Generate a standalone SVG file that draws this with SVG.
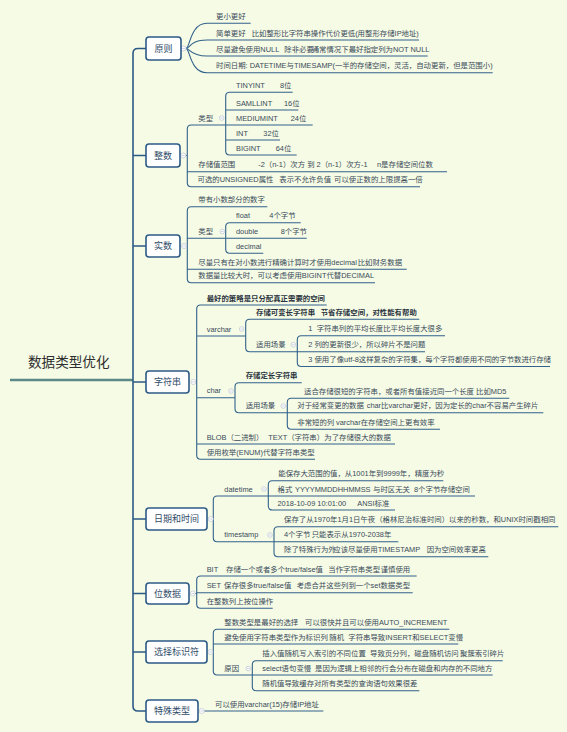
<svg xmlns="http://www.w3.org/2000/svg" width="567" height="732" viewBox="0 0 567 732">
<style>
.ln{stroke:#33628c;stroke-width:1.1;fill:none}
.tr{stroke:#2c5a86;stroke-width:1.6;fill:none}
.bx{fill:#fff;stroke:#2c5a86;stroke-width:1.6}
.bt{font-family:"Liberation Sans","Noto Sans CJK SC",sans-serif;font-size:9px;fill:#2f4b68;text-anchor:middle}
.t{font-family:"Liberation Sans","Noto Sans CJK SC",sans-serif;font-size:7.4px;fill:#3a4a5a}
.b{font-weight:bold;fill:#2b3440}
.c{fill:#fff;stroke:#b9c3d3;stroke-width:0.7}
.cm{stroke:#b9c3d3;stroke-width:0.7}
</style>
<rect x="0" y="0" width="567" height="732" fill="#f5fbe5"/>

<g id="connectors">
  <path d="M10 380H133" stroke="#5d8a86" stroke-width="2.4" fill="none"/>
  <path class="tr" d="M146 48.5H138Q133 48.5 133 53.5V706Q133 711 138 711H146"/>
  <path class="tr" d="M133 155.5H146M133 246H146M133 382H146M133 519H146M133 593.5H146M133 652H146"/>
  <!-- 原则 -->
  <path class="ln" d="M186 48.5C190 48.5 190 23.3 207 23.3H250.7"/>
  <path class="ln" d="M186 48.5C190 48.5 190 40 207 40H419"/>
  <path class="ln" d="M186 48.5C190 48.5 190 56 207 56H427.7"/>
  <path class="ln" d="M186 48.5C190 48.5 190 72.7 207 72.7H492.7"/>
  <!-- 整数 -->
  <path class="ln" d="M191.3 125Q187.3 125 187.3 129V182.7Q187.3 186.7 191.3 186.7M191.3 125H225.7M187.3 171.7H447M191.3 186.7H420M185.8 155.5H187.3"/>
  <path class="ln" d="M229.7 92.3Q225.7 92.3 225.7 96.3V151Q225.7 155 229.7 155M229.7 92.3H292.7M225.7 110H298.3M225.7 125H312.7M225.7 140H280M229.7 155H296.7"/>
  <!-- 实数 -->
  <path class="ln" d="M191.3 206.7Q187.3 206.7 187.3 210.7V278.7Q187.3 282.7 191.3 282.7M191.3 206.7H267.3M187.3 238.3H225.7M187.3 269.3H406.7M191.3 282.7H375M186.5 246H187.3"/>
  <path class="ln" d="M229.7 222.7Q225.7 222.7 225.7 226.7V249.3Q225.7 253.3 229.7 253.3M229.7 222.7H300.7M225.7 238.3H306.7M229.7 253.3H263.3"/>
  <!-- 字符串 -->
  <path class="ln" d="M200.7 305Q196.7 305 196.7 309V455.3Q196.7 459.3 200.7 459.3M200.7 305H326.7M196.7 336H245.7M196.7 397.7H235M196.7 444H395M200.7 459.3H315M195.8 382H196.7"/>
  <path class="ln" d="M249.7 319.3Q245.7 319.3 245.7 323.3V347.7Q245.7 351.7 249.7 351.7M249.7 319.3H419.3M249.7 351.7H297.3"/>
  <path class="ln" d="M301.3 335.7Q297.3 335.7 297.3 339.7V362.5Q297.3 366.5 301.3 366.5M301.3 335.7H445M297.3 351.7H425M301.3 366.5H550"/>
  <path class="ln" d="M239 382.7Q235 382.7 235 386.7V408.7Q235 412.7 239 412.7M239 382.7H301.7M239 412.7H287.3"/>
  <path class="ln" d="M291.3 398.3Q287.3 398.3 287.3 402.3V425.3Q287.3 429.3 291.3 429.3M291.3 398.3H509.3M287.3 412.7H543.3M291.3 429.3H440"/>
  <!-- 日期和时间 -->
  <path class="ln" d="M217.3 496Q213.3 496 213.3 500V537.7Q213.3 541.7 217.3 541.7M217.3 496H268.3M217.3 541.7H274M213.2 519H213.3"/>
  <path class="ln" d="M272.3 480.7Q268.3 480.7 268.3 484.7V506Q268.3 510 272.3 510M272.3 480.7H443.3M268.3 496H475M272.3 510H395"/>
  <path class="ln" d="M278 526.7Q274 526.7 274 530.7V552.7Q274 556.7 278 556.7M278 526.7H558.3M274 541.7H398.3M278 556.7H488.3"/>
  <!-- 位数据 -->
  <path class="ln" d="M200.7 576Q196.7 576 196.7 580V604.3Q196.7 608.3 200.7 608.3M200.7 576H416.7M196.7 592.7H412.7M200.7 608.3H272.7M195.2 593.5H196.7"/>
  <!-- 选择标识符 -->
  <path class="ln" d="M217.3 629.3Q213.3 629.3 213.3 633.3V671Q213.3 675 217.3 675M217.3 629.3H449.3M213.3 644H458.3M217.3 675H252.3M212.8 652H213.3"/>
  <path class="ln" d="M256.3 660.7Q252.3 660.7 252.3 664.7V686.7Q252.3 690.7 256.3 690.7M256.3 660.7H502.7M252.3 675H492.7M256.3 690.7H419.3"/>
  <!-- 特殊类型 -->
  <path class="ln" d="M204.2 711H323.3"/>
  <!-- collapse markers -->
  <g>
    <circle class="c" cx="183.6" cy="48.5" r="2.5"/><path class="cm" d="M182.2 48.5H185"/>
    <circle class="c" cx="183.3" cy="155.5" r="2.5"/><path class="cm" d="M181.9 155.5H184.7"/>
    <circle class="c" cx="184" cy="246" r="2.5"/><path class="cm" d="M182.6 246H185.4"/>
    <circle class="c" cx="193.3" cy="382" r="2.5"/><path class="cm" d="M191.9 382H194.7"/>
    <circle class="c" cx="210.7" cy="519" r="2.5"/><path class="cm" d="M209.3 519H212.1"/>
    <circle class="c" cx="192.7" cy="593.5" r="2.5"/><path class="cm" d="M191.3 593.5H194.1"/>
    <circle class="c" cx="210.3" cy="652" r="2.5"/><path class="cm" d="M208.9 652H211.7"/>
    <circle class="c" cx="201.7" cy="711" r="2.5"/><path class="cm" d="M200.3 711H203.1"/>
    <circle class="c" cx="221.7" cy="118" r="2.3"/><path class="cm" d="M220.4 118H223"/>
    <circle class="c" cx="222.3" cy="231.5" r="2.3"/><path class="cm" d="M221 231.5H223.6"/>
    <circle class="c" cx="241.7" cy="329" r="2.3"/><path class="cm" d="M240.4 329H243"/>
    <circle class="c" cx="293.3" cy="344.7" r="2.3"/><path class="cm" d="M292 344.7H294.6"/>
    <circle class="c" cx="231" cy="391" r="2.3"/><path class="cm" d="M229.7 391H232.3"/>
    <circle class="c" cx="283.3" cy="406" r="2.3"/><path class="cm" d="M282 406H284.6"/>
    <circle class="c" cx="264" cy="489" r="2.3"/><path class="cm" d="M262.7 489H265.3"/>
    <circle class="c" cx="270" cy="535" r="2.3"/><path class="cm" d="M268.7 535H271.3"/>
    <circle class="c" cx="248.3" cy="668.5" r="2.3"/><path class="cm" d="M247 668.5H249.6"/>
  </g>
</g>

<g id="root"><text x="28" y="367" font-family="Liberation Sans,Noto Sans CJK SC,sans-serif" font-size="13.6" fill="#2e2e2e">数据类型优化</text></g>

<g id="yuanze"><rect class="bx" x="146" y="37" width="35" height="23" rx="3"/><text class="bt" x="163.5" y="51.7">原则</text></g>
<g id="yuanze-1"><text class="t" x="216" y="18.8">更小更好</text></g>
<g id="yuanze-2"><text class="t" x="216" y="35.5">简单更好<tspan x="251.7">比如整形比字符串操作代价更低(用整形存储IP地址)</tspan></text></g>
<g id="yuanze-3"><text class="t" x="216" y="51.5">尽量避免使用NULL<tspan x="284.3">除非必要</tspan><tspan x="311.7">通常情况下最好指定列为NOT NULL</tspan></text></g>
<g id="yuanze-4"><text class="t" x="216" y="68.2">时间日期: DATETIME与TIMESAMP(一半的存储空间，灵活，自动更新，但是范围小)</text></g>

<g id="zhengshu"><rect class="bx" x="146" y="144" width="34" height="23" rx="3"/><text class="bt" x="163" y="158.7">整数</text></g>
<g id="zs-type"><text class="t" x="198.3" y="120.5">类型</text></g>
<g id="zs-t1"><text class="t" x="236" y="87.8">TINYINT<tspan x="280">8位</tspan></text></g>
<g id="zs-t2"><text class="t" x="236" y="105.5">SAMLLINT<tspan x="284">16位</tspan></text></g>
<g id="zs-t3"><text class="t" x="236" y="120.5">MEDIUMINT<tspan x="290.7">24位</tspan></text></g>
<g id="zs-t4"><text class="t" x="236" y="135.5">INT<tspan x="263.3">32位</tspan></text></g>
<g id="zs-t5"><text class="t" x="236" y="150.5">BIGINT<tspan x="275.7">64位</tspan></text></g>
<g id="zs-range"><text class="t" x="198.3" y="167.2">存储值范围<tspan x="258.3">-2（n-1）次方 到 2（n-1）次方-1</tspan><tspan x="377">n是存储空间位数</tspan></text></g>
<g id="zs-unsigned"><text class="t" x="197.5" y="182.2">可选的UNSIGNED属性<tspan x="279.3">表示不允许负值</tspan><tspan x="334">可以使正数的上限提高一倍</tspan></text></g>

<g id="shishu"><rect class="bx" x="146" y="235" width="34" height="22" rx="3"/><text class="bt" x="163" y="249.2">实数</text></g>
<g id="ss-1"><text class="t" x="198.3" y="202.2">带有小数部分的数字</text></g>
<g id="ss-type"><text class="t" x="198.3" y="233.8">类型</text></g>
<g id="ss-t1"><text class="t" x="236" y="218.2">float<tspan x="269.3">4个字节</tspan></text></g>
<g id="ss-t2"><text class="t" x="236" y="233.8">double<tspan x="280.7">8个字节</tspan></text></g>
<g id="ss-t3"><text class="t" x="236" y="248.8">decimal</text></g>
<g id="ss-2"><text class="t" x="198.3" y="264.8">尽量只有在对小数进行精确计算时才使用decimal<tspan x="357.7">比如财务数据</tspan></text></g>
<g id="ss-3"><text class="t" x="198.3" y="278.2">数据量比较大时，可以考虑使用BIGINT代替DECIMAL</text></g>

<g id="zifuchuan"><rect class="bx" x="146" y="371" width="43" height="22" rx="3"/><text class="bt" x="167.5" y="385.2">字符串</text></g>
<g id="zf-1"><text class="t b" x="206.7" y="300.5">最好的策略是只分配真正需要的空间</text></g>
<g id="zf-varchar"><text class="t" x="206.7" y="331.5">varchar</text></g>
<g id="zf-v1"><text class="t b" x="256" y="314.8">存储可变长字符串<tspan x="320.7">节省存储空间，对性能有帮助</tspan></text></g>
<g id="zf-v2"><text class="t" x="256" y="347.2">适用场景</text></g>
<g id="zf-v2a"><text class="t" x="308.3" y="331.2">1<tspan x="316.7">字符串列的平均长度比平均长度大很多</tspan></text></g>
<g id="zf-v2b"><text class="t" x="308.3" y="347.2">2 列的更新很少，所以碎片不是问题</text></g>
<g id="zf-v2c"><text class="t" x="308.3" y="362">3 使用了像utf-8这样复杂的字符集，每个字符都使用不同的字节数进行存储</text></g>
<g id="zf-char"><text class="t" x="206.7" y="393.2">char</text></g>
<g id="zf-c1"><text class="t b" x="245.7" y="378.2">存储定长字符串</text></g>
<g id="zf-c2"><text class="t" x="245.7" y="408.2">适用场景</text></g>
<g id="zf-c2a"><text class="t" x="304" y="393.8">适合存储很短的字符串，或者所有值接近同一个长度 比如MD5</text></g>
<g id="zf-c2b"><text class="t" x="297.3" y="408.2">对于经常变更的数据<tspan x="366.7">char比varchar更好，因为定长的char不容易产生碎片</tspan></text></g>
<g id="zf-c2c"><text class="t" x="297.3" y="424.8">非常短的列<tspan x="336">varchar在存储空间上更有效率</tspan></text></g>
<g id="zf-blob"><text class="t" x="206.7" y="439.5">BLOB（二进制）<tspan x="268.3">TEXT（字符串）</tspan><tspan x="324.3">为了存储很大的数据</tspan></text></g>
<g id="zf-enum"><text class="t" x="206.7" y="454.8">使用枚举(ENUM)代替字符串类型</text></g>

<g id="riqi"><rect class="bx" x="146" y="508" width="61" height="22" rx="3"/><text class="bt" x="176.5" y="522.2">日期和时间</text></g>
<g id="rq-datetime"><text class="t" x="224.3" y="491.5">datetime</text></g>
<g id="rq-d1"><text class="t" x="278.3" y="476.2">能保存大范围的值，从1001年到9999年，精度为秒</text></g>
<g id="rq-d2"><text class="t" x="277.5" y="491.5">格式<tspan x="295">YYYYMMDDHHMMSS</tspan><tspan x="373">与时区无关</tspan><tspan x="414">8个字节存储空间</tspan></text></g>
<g id="rq-d3"><text class="t" x="277.5" y="505.5">2018-10-09 10:01:00<tspan x="357.3">ANSI标准</tspan></text></g>
<g id="rq-timestamp"><text class="t" x="224.3" y="537.2">timestamp</text></g>
<g id="rq-t1"><text class="t" x="284" y="522.2">保存了从1970年1月1日午夜（格林尼治标准时间）以来的秒数，和UNIX时间戳相同</text></g>
<g id="rq-t2"><text class="t" x="284" y="537.2">4个字节<tspan x="311.7">只能表示从1970-2038年</tspan></text></g>
<g id="rq-t3"><text class="t" x="284" y="552.2">除了特殊行为外<tspan x="333.3">应该尽量使用TIMESTAMP</tspan><tspan x="426.7">因为空间效率更高</tspan></text></g>

<g id="weishuju"><rect class="bx" x="146" y="583" width="43" height="21" rx="3"/><text class="bt" x="167.5" y="596.7">位数据</text></g>
<g id="ws-1"><text class="t" x="206.7" y="571.5">BIT<tspan x="226">存储一个或者多个true/false值</tspan><tspan x="328.3">当作字符串类型</tspan><tspan x="380.7">谨慎使用</tspan></text></g>
<g id="ws-2"><text class="t" x="206.7" y="588.2">SET<tspan x="224">保存很多true/false值</tspan><tspan x="296.7">考虑合并这些列到一个set数据类型</tspan></text></g>
<g id="ws-3"><text class="t" x="206.7" y="603.8">在整数列上按位操作</text></g>

<g id="xuanze"><rect class="bx" x="146" y="641" width="61" height="22" rx="3"/><text class="bt" x="176.5" y="655.2">选择标识符</text></g>
<g id="xz-1"><text class="t" x="224.3" y="624.8">整数类型是最好的选择<tspan x="305">可以很快并且可以使用AUTO_INCREMENT</tspan></text></g>
<g id="xz-2"><text class="t" x="224.3" y="639.5">避免使用字符串类型作为标识列<tspan x="329.3">随机</tspan><tspan x="348.3">字符串导致INSERT和SELECT变慢</tspan></text></g>
<g id="xz-reason"><text class="t" x="224.3" y="670.5">原因</text></g>
<g id="xz-r1"><text class="t" x="262.3" y="656.2">插入值随机写入索引的不同位置<tspan x="370">导致页分列，磁盘随机访问</tspan><tspan x="460">聚簇索引碎片</tspan></text></g>
<g id="xz-r2"><text class="t" x="262.3" y="670.8">select语句变慢<tspan x="315">是因为逻辑上相邻的行会分布在磁盘和内存的不同地方</tspan></text></g>
<g id="xz-r3"><text class="t" x="262.3" y="686.2">随机值导致缓存对所有类型的查询语句效果很差</text></g>

<g id="teshu"><rect class="bx" x="146" y="700" width="52" height="22" rx="3"/><text class="bt" x="172" y="714.2">特殊类型</text></g>
<g id="ts-1"><text class="t" x="215" y="706.5">可以使用varchar(15)存储IP地址</text></g>
</svg>
